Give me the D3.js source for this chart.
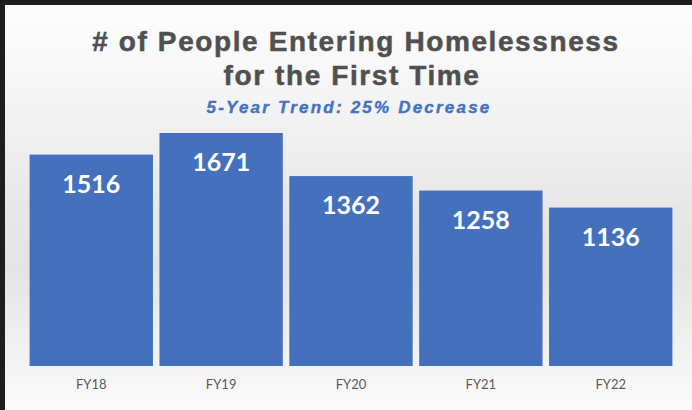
<!DOCTYPE html>
<html>
<head>
<meta charset="utf-8">
<script src="https://cdn.jsdelivr.net/npm/d3@7/dist/d3.min.js"></script>
<style>
  html, body { margin: 0; padding: 0; background: #1e1e1e; }
  svg { display: block; }
</style>
</head>
<body>
<script>
// Chart data
const categories = ["FY18", "FY19", "FY20", "FY21", "FY22"];
const values = [1516, 1671, 1362, 1258, 1136];
const titleLines = ["# of People Entering Homelessness", "for the First Time"];
const subtitle = "5-Year Trend: 25% Decrease";

const W = 692, H = 410;
const svg = d3.select("body").append("svg")
  .attr("width", W).attr("height", H);

// Soft vertical gradient panel
const defs = svg.append("defs");
const grad = defs.append("linearGradient")
  .attr("id", "bg").attr("x1", 0).attr("y1", 0).attr("x2", 0).attr("y2", 1);
[[0, "#fcfcfc"], [0.15, "#f8f8f8"], [0.5, "#e7e7e7"], [0.65, "#e4e4e4"], [0.88, "#f3f3f3"], [1, "#fbfbfb"]]
  .forEach(([o, c]) => grad.append("stop").attr("offset", o).attr("stop-color", c));

svg.append("rect").attr("width", W).attr("height", H).attr("fill", "#1e1e1e");
svg.append("rect").attr("x", 5).attr("y", 5).attr("width", W - 5).attr("height", H - 5)
  .attr("fill", "url(#bg)");

// Scales
const x = d3.scaleBand().domain(categories).range([27, 675]).paddingInner(0.05).paddingOuter(0.02);
const y = d3.scaleLinear().domain([0, 1800]).range([366, 115]);

// Bars
svg.append("g").selectAll("rect").data(values).join("rect")
  .attr("x", (d, i) => x(categories[i]))
  .attr("y", d => y(d))
  .attr("width", x.bandwidth())
  .attr("height", d => y(0) - y(d))
  .attr("fill", "#4470bd");

// Value labels inside bar tops
svg.append("g").selectAll("text").data(values).join("text")
  .attr("x", (d, i) => x(categories[i]) + x.bandwidth() / 2)
  .attr("y", d => y(d) + 38)
  .attr("text-anchor", "middle")
  .attr("font-family", "Lato, 'Open Sans', sans-serif")
  .attr("font-weight", "bold")
  .attr("font-size", 25)
  .attr("fill", "#ffffff")
  .text(d => d);

// Category axis
const axis = svg.append("g").attr("transform", "translate(0,366)")
  .call(d3.axisBottom(x).tickSize(0).tickPadding(14));
axis.select(".domain").remove();
axis.selectAll("text")
  .attr("font-family", "Lato, 'Open Sans', sans-serif")
  .attr("font-size", 13)
  .attr("fill", "#595959");

// Title and subtitle (heavy, widely set sans)
const titleCx = [356, 352];
svg.append("g").selectAll("text").data(titleLines).join("text")
  .attr("x", (d, i) => titleCx[i])
  .attr("y", (d, i) => 51 + i * 34)
  .attr("text-anchor", "middle")
  .style("font-family", "Liberation Sans")
  .style("font-weight", "700")
  .style("font-size", "28px")
  .style("letter-spacing", "1.6px")
  .attr("fill", "#505050")
  .attr("stroke", "#505050")
  .attr("stroke-width", 0.5)
  .text(d => d);

svg.append("text")
  .attr("x", 349).attr("y", 113)
  .attr("text-anchor", "middle")
  .style("font-family", "Liberation Sans")
  .style("font-weight", "700")
  .style("font-style", "italic")
  .style("font-size", "17px")
  .style("letter-spacing", "2.2px")
  .attr("fill", "#4472c4")
  .attr("stroke", "#4472c4")
  .attr("stroke-width", 0.4)
  .text(subtitle);
</script>
</body>
</html>
